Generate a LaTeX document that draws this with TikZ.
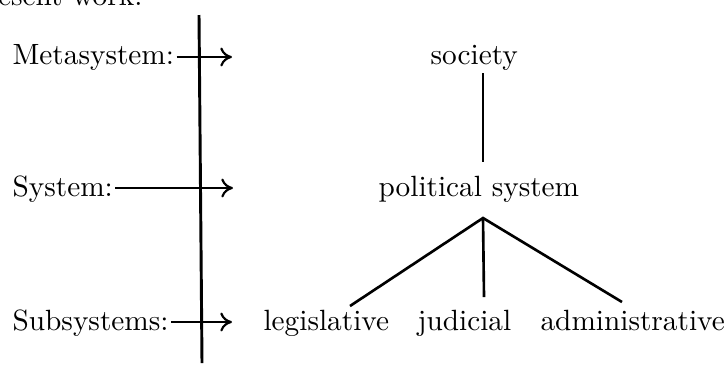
\documentclass[tikz,border=0pt]{standalone}
\usetikzlibrary{arrows.meta}
\begin{document}
\begin{tikzpicture}[x=0.3413pt,y=-0.3413pt,
  lbl/.style={inner sep=0pt, anchor=base west, font=\fontsize{10}{12}\selectfont},
  pointer/.style={line width=0.75pt, -{To[length=4pt,width=6.5pt]}},
  axisline/.style={line width=1pt},
  branch/.style={line width=0.9pt}]
\useasboundingbox (0,0) rectangle (728,365);
% running text above, cut by the page edge
\begin{scope}
  \clip (0,0) rectangle (728,365);
  \node[lbl, anchor=base east] (pw) at (143,5) {present work:};
\end{scope}

% level labels on the left
\node[lbl] (meta) at (12,64)  {Metasystem:};
\node[lbl] (sys)  at (12,196) {System:};
\node[lbl] (sub)  at (12,330) {Subsystems:};

% hierarchy on the right
\node[lbl] (soc) at (430,64)  {society};
\node[lbl] (pol) at (378,196) {political system};
\node[lbl] (leg) at (263,330) {legislative};
\node[lbl] (jud) at (417,330) {judicial};
\node[lbl] (adm) at (540,330) {administrative};

% vertical divider
\coordinate (vtop) at (199,15);
\coordinate (vbot) at (202,363);
\draw[axisline] (vtop) -- (vbot);

% pointers from the labels
\coordinate (metaend) at (232,57);
\coordinate (sysend)  at (233,188);
\coordinate (subend)  at (232,322);
\draw[pointer] (meta.base east) ++(2,-7) -- (metaend);
\draw[pointer] (sys.base east)  ++(2,-8) -- (sysend);
\draw[pointer] (sub.base east)  ++(2,-8) -- (subend);

% tree edges
\coordinate (socfoot) at (483,73);
\coordinate (polhead) at (483,162);
\coordinate (apex)    at (483,218);
\coordinate (legtop)  at (350,306);
\coordinate (judtop)  at (484,297);
\coordinate (admtop)  at (622,302);
\draw[branch] (socfoot) -- (polhead);
\draw[branch] (legtop) -- (apex) -- (admtop);
\draw[branch] (apex) -- (judtop);
\end{tikzpicture}
\end{document}
